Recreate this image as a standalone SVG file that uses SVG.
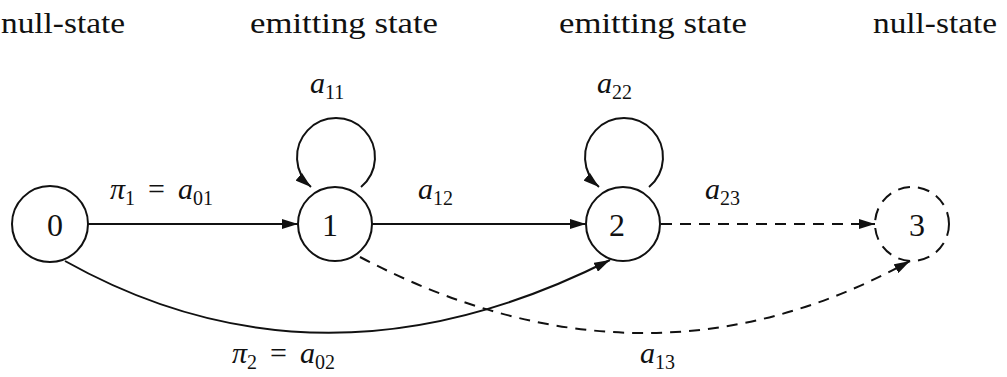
<svg xmlns="http://www.w3.org/2000/svg" width="1007" height="377" viewBox="0 0 1007 377">
<style>
.t{font-family:"Liberation Serif","DejaVu Serif",serif;font-size:30px;fill:#111}
.d{font-family:"Liberation Serif","DejaVu Serif",serif;font-size:32px;fill:#111}
.m{font-family:"Liberation Serif","DejaVu Serif",serif;font-size:30px;fill:#111}
.i{font-style:italic}
.s{font-size:20px;font-style:normal}
.node{fill:#fff;stroke:#111;stroke-width:2}
.dash{stroke-dasharray:12 8}
.e{fill:none;stroke:#111;stroke-width:2}
.ed{fill:none;stroke:#111;stroke-width:2;stroke-dasharray:11 8}
</style>
<defs>
<marker id="ah" viewBox="0 0 16 10" refX="16" refY="5" markerWidth="16" markerHeight="10" markerUnits="userSpaceOnUse" orient="auto">
<path d="M0,0 L16,5 L0,10 z" fill="#111"/>
</marker>
</defs>
<rect width="1007" height="377" fill="#fff"/>
<g id="headers">
<text class="t" x="1" y="33" textLength="124" lengthAdjust="spacingAndGlyphs">null-state</text>
<text class="t" x="250" y="33" textLength="188" lengthAdjust="spacingAndGlyphs">emitting state</text>
<text class="t" x="559" y="33" textLength="188" lengthAdjust="spacingAndGlyphs">emitting state</text>
<text class="t" x="873" y="33" textLength="124" lengthAdjust="spacingAndGlyphs">null-state</text>
</g>
<g id="connectors">
<line class="e" x1="88" y1="224" x2="298" y2="224" marker-end="url(#ah)"/>
<line class="e" x1="372" y1="224" x2="586" y2="224" marker-end="url(#ah)"/>
<line class="ed" x1="661" y1="224" x2="875" y2="224" marker-end="url(#ah)"/>
<path class="e" d="M361,187 A39,39 0 1 0 311,187" marker-end="url(#ah)"/>
<path class="e" d="M649,187 A39,39 0 1 0 599,187" marker-end="url(#ah)"/>
<path class="e" d="M65,261 Q322,405 610,260" marker-end="url(#ah)"/>
<path class="ed" d="M360,257 Q645,407 910,261" marker-end="url(#ah)"/>
<text class="m" x="110" y="199"><tspan class="i">π</tspan><tspan class="s" dy="6">1</tspan><tspan x="148" dy="-6">=</tspan><tspan class="i" x="178">a</tspan><tspan class="s" dy="6">01</tspan></text>
<text class="m" x="418" y="199"><tspan class="i">a</tspan><tspan class="s" dy="6">12</tspan></text>
<text class="m" x="705" y="199"><tspan class="i">a</tspan><tspan class="s" dy="6">23</tspan></text>
<text class="m" x="310" y="93"><tspan class="i">a</tspan><tspan class="s" dy="6">11</tspan></text>
<text class="m" x="597" y="93"><tspan class="i">a</tspan><tspan class="s" dy="6">22</tspan></text>
<text class="m" x="232" y="363"><tspan class="i">π</tspan><tspan class="s" dy="6">2</tspan><tspan x="270" dy="-6">=</tspan><tspan class="i" x="300">a</tspan><tspan class="s" dy="6">02</tspan></text>
<text class="m" x="640" y="363"><tspan class="i">a</tspan><tspan class="s" dy="6">13</tspan></text>
</g>
<g id="n0"><circle class="node" cx="50" cy="224" r="38"/><text class="d" x="55" y="236" text-anchor="middle">0</text></g>
<g id="n1"><circle class="node" cx="335" cy="224" r="37"/><text class="d" x="330" y="236" text-anchor="middle">1</text></g>
<g id="n2"><circle class="node" cx="623" cy="224" r="37"/><text class="d" x="617" y="236" text-anchor="middle">2</text></g>
<g id="n3"><circle class="node dash" cx="912" cy="224" r="37"/><text class="d" x="917" y="236" text-anchor="middle">3</text></g>
</svg>
